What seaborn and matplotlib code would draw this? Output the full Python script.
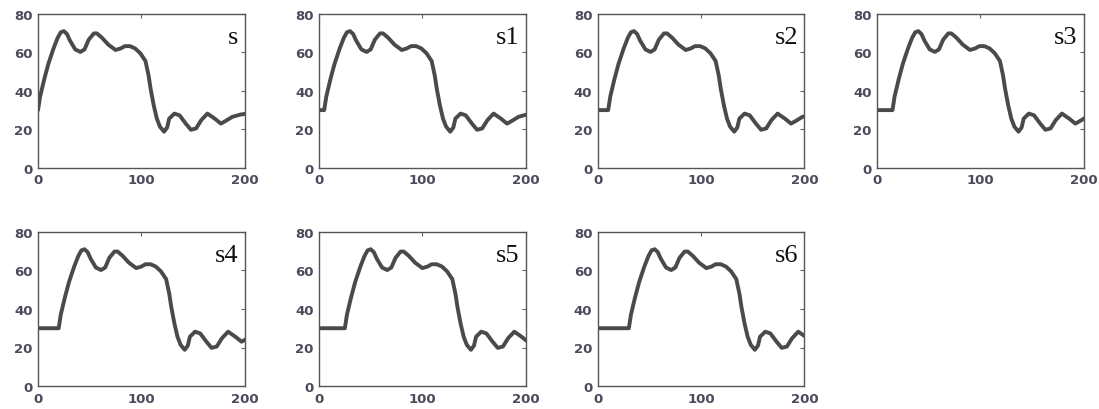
import matplotlib
matplotlib.use("Agg")
import matplotlib.pyplot as plt
import pandas as pd
import seaborn as sns

# base signal s
base_x = [0, 2, 6, 10, 15, 19, 22, 25, 28, 31, 36, 41, 45, 49, 54, 57, 62,
          68, 75, 80, 84, 89, 94, 99, 104, 107, 109, 112, 115, 118, 122, 125,
          127, 132, 137, 143, 148, 153, 158, 164, 171, 177, 182, 188, 196, 200]
base_y = [30, 37, 46, 54, 62, 67.5, 70.4, 71, 69.5, 66, 61.5, 60.2, 61.5,
          66.5, 69.8, 69.8, 67.5, 64, 61.2, 62, 63.2, 63.2, 62, 59.5, 55.5, 48,
          41, 32.5, 25.6, 21.4, 18.8, 21, 25.6, 28.2, 27.3, 23, 19.8, 20.5,
          24.8, 28.2, 25.6, 23, 24.5, 26.5, 27.7, 28]

# each panel is s delayed by a number of samples, held at the start value
names = ["s", "s1", "s2", "s3", "s4", "s5", "s6"]
delays = [0, 5, 10, 15, 20, 25, 30]
hold_value = 30

x_ticks = [0, 100, 200]
y_ticks = [0, 20, 40, 60, 80]

sns.set_style("white")
plt.rcParams["font.family"] = ["DejaVu Sans"]

fig = plt.figure(figsize=(10.99, 4.10), dpi=100)

col_left = [0.0346, 0.2903, 0.5440, 0.7980]
row_bottom = [0.588, 0.056]
w, h = 0.188, 0.376

line_color = "#4a4a4a"
tick_color = "#4b4b5c"

for i, (name, d) in enumerate(zip(names, delays)):
    r, c = divmod(i, 4)
    ax = fig.add_axes([col_left[c], row_bottom[r], w, h])

    xs = ([0] if d > 0 else []) + [bx + d for bx in base_x]
    ys = ([hold_value] if d > 0 else []) + list(base_y)
    df = pd.DataFrame({"x": xs, "y": ys})

    sns.lineplot(data=df, x="x", y="y", ax=ax, color=line_color,
                 linewidth=2.8, estimator=None, sort=False)

    ax.set_xlim(0, 200)
    ax.set_ylim(0, 80)
    ax.set_xticks(x_ticks)
    ax.set_yticks(y_ticks)
    ax.set_xlabel("")
    ax.set_ylabel("")
    ax.tick_params(direction="in", top=True, right=True, length=3, width=0.8,
                   labelsize=9.5, labelcolor=tick_color, color="#666666", pad=4)
    for lab in ax.get_xticklabels() + ax.get_yticklabels():
        lab.set_fontweight("bold")
    for sp in ax.spines.values():
        sp.set_color("#555555")
        sp.set_linewidth(1.0)

    ax.text(0.97, 0.81, name, transform=ax.transAxes, ha="right", va="baseline",
            fontsize=19, family=["Liberation Serif", "DejaVu Serif"],
            color="#111111")

fig.savefig("out.png", dpi=100, facecolor="white")
